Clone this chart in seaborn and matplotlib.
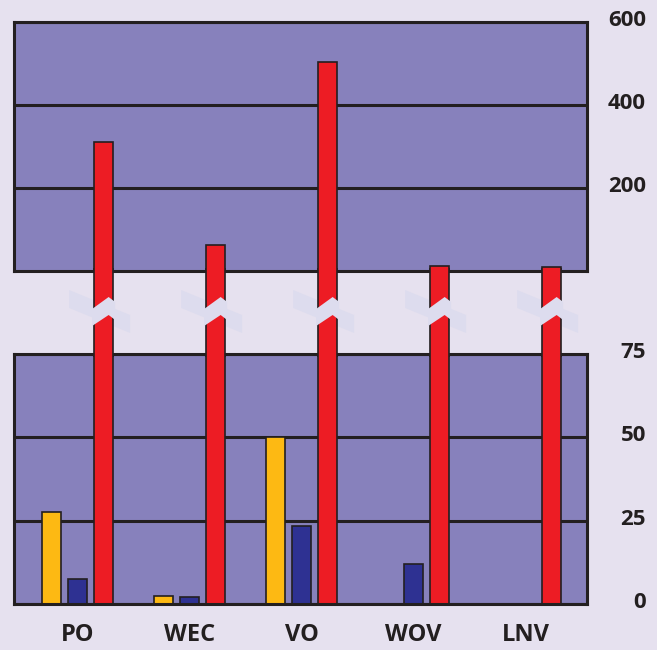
import numpy as np
import pandas as pd
import matplotlib
matplotlib.use("Agg")
import matplotlib.pyplot as plt
import seaborn as sns
from matplotlib.patches import Polygon
from matplotlib import transforms

# ---------------- data ----------------
categories = ["PO", "WEC", "VO", "WOV", "LNV"]
series = ["yellow", "blue", "red"]
yellow_vals = [27.5, 2.4, 50.0, np.nan, np.nan]
blue_vals = [7.5, 2.0, 23.5, 12.0, np.nan]
red_vals = [311, 62, 504, 12, 9]          # read on the upper (broken) scale
lower_ticks = [0, 25, 50, 75]
upper_ticks = [200, 400, 600]

# ---------------- style ----------------
BG = "#e6e1ef"
PANEL = "#8781bc"
EDGE = "#231f20"
BREAK = "#dddcee"
palette = {"yellow": "#fdb913", "blue": "#2e3192", "red": "#ed1c24"}

sns.set_style("white")
plt.rcParams["font.family"] = ["Open Sans", "DejaVu Sans"]

W, H = 657, 650
fig = plt.figure(figsize=(W / 100, H / 100), dpi=100, facecolor=BG)

def rect(x0, y0, x1, y1):
    return [x0 / W, 1 - y1 / H, (x1 - x0) / W, (y1 - y0) / H]

ax_top = fig.add_axes(rect(14, 22, 587, 271))
ax_bot = fig.add_axes(rect(14, 354, 587, 604))
ax_mid = fig.add_axes(rect(14, 268, 587, 357))

lower_max = lower_ticks[-1]
df_low = pd.DataFrame({
    "cat": categories * 3,
    "series": ["yellow"] * 5 + ["blue"] * 5 + ["red"] * 5,
    "val": list(yellow_vals) + list(blue_vals) + [lower_max + v for v in red_vals],
}).dropna()
df_red = pd.DataFrame({"cat": categories, "series": ["red"] * 5, "val": red_vals})

bar_kw = dict(x="cat", y="val", hue="series", hue_order=series, order=categories,
              palette=palette, width=0.7, gap=0.27, dodge=True, errorbar=None,
              saturation=1, edgecolor=EDGE, linewidth=1.2, legend=False)

sns.barplot(data=df_low, ax=ax_bot, **bar_kw)
sns.barplot(data=df_red, ax=ax_top, **bar_kw)
sns.barplot(data=df_red, ax=ax_mid, **bar_kw)

xlim = (-0.567, 4.549)
for ax in (ax_top, ax_bot):
    ax.set_xlim(*xlim)
    ax.set_facecolor(PANEL)
    ax.set_axisbelow(True)
    ax.yaxis.grid(True, color=EDGE, linewidth=2.2)
    ax.xaxis.grid(False)
    for s in ax.spines.values():
        s.set_visible(True)
        s.set_color(EDGE)
        s.set_linewidth(2.2)
    ax.set_xlabel("")
    ax.set_ylabel("")
    ax.yaxis.tick_right()
    ax.tick_params(axis="y", length=0, pad=42.5, labelsize=16)

ax_top.set_ylim(0, upper_ticks[-1])
ax_top.set_yticks(upper_ticks)
ax_top.set_yticklabels([str(t) for t in upper_ticks], fontweight="bold", color=EDGE, ha="right")
ax_top.set_xticks([])

ax_bot.set_ylim(0, lower_max)
ax_bot.set_yticks(lower_ticks)
ax_bot.set_yticklabels([str(t) for t in lower_ticks], fontweight="bold", color=EDGE, ha="right")
ax_bot.tick_params(axis="x", length=0, pad=14, labelsize=17)
for lab in ax_bot.get_xticklabels():
    lab.set_fontweight("bold")
    lab.set_color(EDGE)

shift = transforms.ScaledTranslation(0, 4 / 100, fig.dpi_scale_trans)
for ax in (ax_top, ax_bot):
    for lab in ax.get_yticklabels():
        lab.set_transform(lab.get_transform() + shift)

# middle (gap) axes: bars pass through the break
ax_mid.set_xlim(*xlim)
ax_mid.set_ylim(0.03, 1)
ax_mid.axis("off")
ax_mid.patch.set_alpha(0)

# break marks
px = 1 / 112.0  # data units per pixel in x
tr = transforms.blended_transform_factory(ax_mid.transData, ax_mid.transAxes)
def fy(py):
    return (357 - py) / 89.0
for p in list(ax_mid.patches):
    cx = p.get_x() + p.get_width() / 2
    hw = p.get_width() / 2
    band = Polygon([(cx - 34.5 * px, fy(290)), (cx + 26.5 * px, fy(315)),
                    (cx + 26.5 * px, fy(333)), (cx - 34.5 * px, fy(308))],
                   closed=True, facecolor=BREAK, edgecolor="none",
                   transform=tr, zorder=0.5)
    cut = Polygon([(cx - hw - 2 * px, fy(309)), (cx + 5 * px, fy(297)),
                   (cx + hw + 2 * px, fy(302)), (cx + hw + 2 * px, fy(320)),
                   (cx + 5 * px, fy(315)), (cx - hw - 2 * px, fy(326))],
                  closed=True, facecolor=BREAK, edgecolor="none",
                  transform=tr, zorder=5)
    ax_mid.add_patch(band)
    ax_mid.add_patch(cut)

fig.savefig("out.png", dpi=100, facecolor=BG)
